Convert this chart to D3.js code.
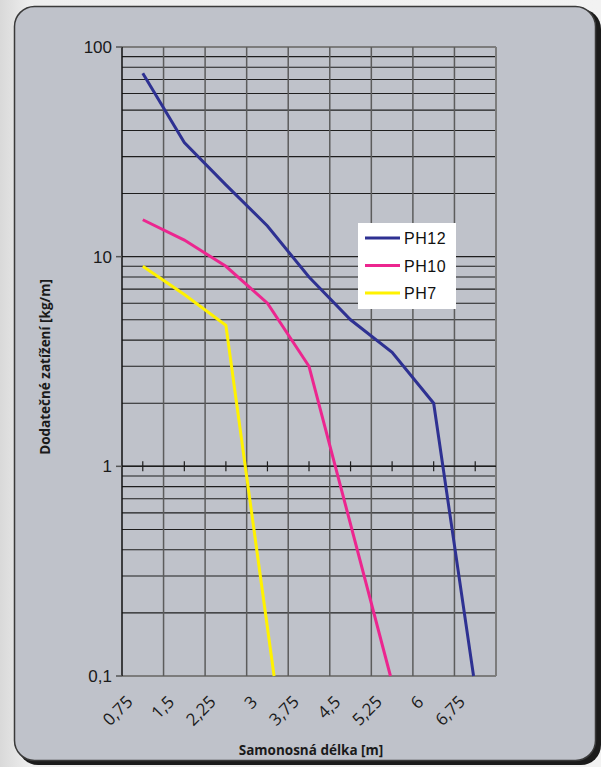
<!DOCTYPE html>
<html>
<head>
<meta charset="UTF-8">
<script src="https://d3js.org/d3.v7.min.js"></script>
<style>
    body { margin: 0; background: #ececec; }
    .ylab { font-family: "Liberation Sans", Arial, sans-serif; font-size: 17px; fill: #1a1a1a; }
    .xlab { font-family: "Open Sans", sans-serif; font-size: 17px; fill: #1a1a1a; }
    .title { font-family: "Open Sans", sans-serif; font-size: 13.5px; font-weight: bold; fill: #1a1a1a; }
    .legend { font-family: "Liberation Sans", Arial, sans-serif; font-size: 16px; fill: #111; letter-spacing: 0.5px; }
</style>
</head>
<body>
<svg id="chart" width="601" height="767"></svg>
<script>
// category ticks on x (meters) and log ticks on y (kg/m)
const xTicks = [0.75, 1.5, 2.25, 3, 3.75, 4.5, 5.25, 6, 6.75];
const xTickLabels = ["0,75", "1,5", "2,25", "3", "3,75", "4,5", "5,25", "6", "6,75"];
const yTicks = [0.1, 1, 10, 100];
const yTickLabels = ["0,1", "1", "10", "100"];

const seriesNames = ["PH12", "PH10", "PH7"];
const seriesColors = ["#2e3192", "#ec268f", "#fff200"];

const ph12X = [0.75, 1.5, 2.25, 3, 3.75, 4.5, 5.25, 6, 6.72];
const ph12Y = [75, 35, 22, 14, 8, 5, 3.5, 2, 0.1];
const ph10X = [0.75, 1.5, 2.25, 3, 3.75, 5.22];
const ph10Y = [15, 12, 9, 6, 3, 0.1];
const ph7X = [0.75, 1.5, 2.25, 3.12];
const ph7Y = [9, 6.6, 4.7, 0.1];

const svg = d3.select("#chart");

// background + panel
let defs = svg.append("defs");
let grad = defs.append("linearGradient").attr("id", "bg").attr("x1", 0).attr("x2", 1).attr("y1", 0).attr("y2", 0);
grad.append("stop").attr("offset", 0).attr("stop-color", "#d9d9d9");
grad.append("stop").attr("offset", 0.05).attr("stop-color", "#eeeeee");
grad.append("stop").attr("offset", 1).attr("stop-color", "#f2f2f2");
svg.append("rect").attr("width", 601).attr("height", 767).attr("fill", "url(#bg)");

// shadow on right/bottom
svg.append("rect").attr("x", 18).attr("y", 9).attr("width", 583).attr("height", 756)
    .attr("rx", 20).attr("fill", "#1b1b1b");
svg.append("rect").attr("x", 14.5).attr("y", 6.5).attr("width", 581).attr("height", 754)
    .attr("rx", 20).attr("fill", "#bfc2ca").attr("stroke", "#3a3a3a").attr("stroke-width", 1.5);

let margin = {left: 122, right: 496, top: 47, bottom: 676};

let x = d3.scaleLinear().domain([0.375, 7.125]).range([margin.left, margin.right]);
let y = d3.scaleLog().domain([0.1, 100]).range([margin.bottom, margin.top]);

let g = svg.append("g");

// horizontal grid (log minor + major)
let hVals = [];
[0.1, 1, 10].forEach(function(d) {
    for (let k = 1; k < 10; k++) hVals.push(d * k);
});
g.selectAll("line.h").data(hVals).join("line")
    .attr("class", "h")
    .attr("x1", margin.left).attr("x2", margin.right)
    .attr("y1", d => y(d)).attr("y2", d => y(d))
    .attr("stroke", d => d === 0.1 ? "#7c7c7c" : "#1e1e1e")
    .attr("stroke-width", d => d === 0.1 ? 2 : 1.1);
g.append("line")
    .attr("x1", margin.left).attr("x2", margin.right)
    .attr("y1", y(100)).attr("y2", y(100))
    .attr("stroke", "#7c7c7c").attr("stroke-width", 2);

// vertical grid between categories
let vVals = d3.range(1, 10).map(k => 0.375 + k * 0.75);
g.selectAll("line.v").data(vVals).join("line")
    .attr("class", "v")
    .attr("x1", d => x(d)).attr("x2", d => x(d))
    .attr("y1", margin.top).attr("y2", margin.bottom)
    .attr("stroke", (d, i) => i === 8 ? "#7c7c7c" : "#5c5c5c")
    .attr("stroke-width", (d, i) => i === 8 ? 2 : 1.5);

// x axis crosses at 1
g.append("line")
    .attr("x1", margin.left).attr("x2", margin.right)
    .attr("y1", y(1)).attr("y2", y(1))
    .attr("stroke", "#1e1e1e").attr("stroke-width", 1.5);
g.selectAll("line.xt").data(xTicks).join("line")
    .attr("class", "xt")
    .attr("x1", d => x(d)).attr("x2", d => x(d))
    .attr("y1", y(1) - 5).attr("y2", y(1) + 5)
    .attr("stroke", "#1e1e1e").attr("stroke-width", 1.2);

// y axis
g.append("line")
    .attr("x1", margin.left).attr("x2", margin.left)
    .attr("y1", margin.top).attr("y2", margin.bottom)
    .attr("stroke", "#111").attr("stroke-width", 1.5);
g.selectAll("line.yt").data(yTicks).join("line")
    .attr("class", "yt")
    .attr("x1", margin.left - 6).attr("x2", margin.left)
    .attr("y1", d => y(d)).attr("y2", d => y(d))
    .attr("stroke", "#555").attr("stroke-width", 1.5);
g.selectAll("text.ylab").data(yTicks).join("text")
    .attr("class", "ylab")
    .attr("x", margin.left - 10)
    .attr("y", d => y(d) + 6)
    .attr("text-anchor", "end")
    .text((d, i) => yTickLabels[i]);

// x tick labels, rotated
g.selectAll("text.xlab").data(xTicks).join("text")
    .attr("class", "xlab")
    .attr("text-anchor", "end")
    .attr("transform", d => "translate(" + (x(d) - 9) + "," + (margin.bottom + 27) + ") rotate(-45)")
    .text((d, i) => xTickLabels[i]);

// titles
svg.append("text").attr("class", "title")
    .attr("x", 311).attr("y", 755)
    .attr("text-anchor", "middle")
    .text("Samonosná délka [m]");
svg.append("text").attr("class", "title")
    .attr("transform", "translate(50,367) rotate(-90)")
    .attr("text-anchor", "middle")
    .text("Dodatečné zatížení [kg/m]");

// series
let seriesX = [ph12X, ph10X, ph7X];
let seriesY = [ph12Y, ph10Y, ph7Y];
let line = d3.line().x(d => x(d[0])).y(d => y(d[1]));
seriesNames.forEach(function(name, i) {
    let pts = seriesX[i].map((v, j) => [v, seriesY[i][j]]);
    g.append("path")
        .datum(pts)
        .attr("d", line)
        .attr("fill", "none")
        .attr("stroke", seriesColors[i])
        .attr("stroke-width", 3)
        .attr("stroke-linejoin", "miter");
});

// legend
let leg = svg.append("g").attr("transform", "translate(358,223)");
leg.append("rect").attr("width", 98).attr("height", 86).attr("fill", "#ffffff");
seriesNames.forEach(function(name, i) {
    let yy = 15 + i * 27.5;
    leg.append("line")
        .attr("x1", 7).attr("x2", 42)
        .attr("y1", yy).attr("y2", yy)
        .attr("stroke", seriesColors[i]).attr("stroke-width", 3);
    leg.append("text").attr("class", "legend")
        .attr("x", 46).attr("y", yy + 6)
        .text(name);
});
</script>
</body>
</html>
